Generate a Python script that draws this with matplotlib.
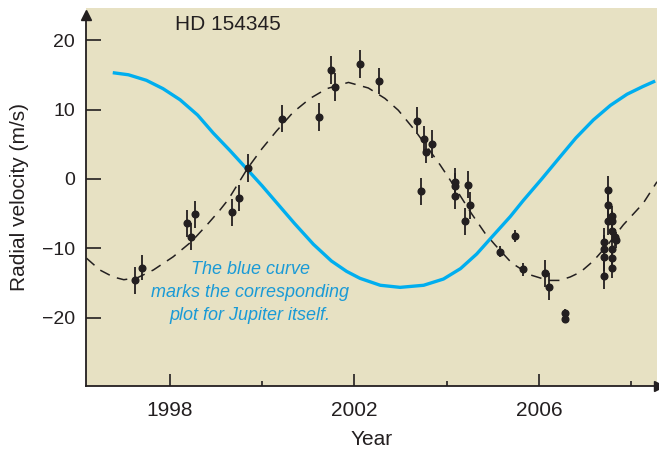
import matplotlib
matplotlib.use("Agg")
import matplotlib.pyplot as plt

plt.rcParams['font.family'] = ['Liberation Sans', 'DejaVu Sans']

obs_year = [1997.24, 1997.39, 1998.37, 1998.46, 1998.54, 1999.34, 1999.50, 1999.69,
            2000.42, 2001.23, 2001.49, 2001.57, 2002.12, 2002.54,
            2003.35, 2003.44, 2003.50, 2003.55, 2003.68,
            2004.17, 2004.19, 2004.17, 2004.40, 2004.46, 2004.51,
            2005.16, 2005.48, 2005.65, 2006.13, 2006.22, 2006.57, 2006.57,
            2007.41, 2007.41, 2007.41, 2007.41,
            2007.49, 2007.49, 2007.49,
            2007.58, 2007.58, 2007.58, 2007.58, 2007.58, 2007.58,
            2007.64, 2007.68]
obs_rv = [-14.6, -12.8, -6.4, -8.3, -5.1, -4.8, -2.7, 1.6,
          8.7, 8.9, 15.7, 13.2, 16.6, 14.1,
          8.4, -1.8, 5.8, 3.9, 5.0,
          -0.4, -1.0, -2.4, -6.1, -0.8, -3.8,
          -10.5, -8.2, -13.0, -13.6, -15.5, -19.3, -20.1,
          -9.1, -10.1, -11.3, -13.9,
          -1.6, -3.8, -6.1,
          -5.4, -6.1, -7.5, -10.1, -11.4, -12.8,
          -8.4, -8.8]
obs_err = [1.9, 1.8, 1.9, 1.9, 1.9, 1.9, 1.9, 2.0,
           1.9, 2.0, 2.0, 2.0, 2.0, 1.9,
           1.9, 2.0, 1.8, 1.6, 2.0,
           2.0, 1.9, 1.9, 1.9, 2.0, 1.9,
           0.8, 0.9, 0.9, 2.0, 1.9, 0.6, 0.6,
           2.0, 2.0, 2.0, 2.0,
           2.0, 2.0, 2.0,
           1.5, 1.5, 1.5, 1.5, 1.5, 1.5,
           1.2, 1.2]

# orbit fit for HD 154345 (dashed)
fit_year = [1996.19, 1996.48, 1996.77, 1997.0, 1997.3, 1997.64, 1998.07, 1998.47,
            1998.83, 1999.08, 1999.26, 1999.69, 2000.0, 2000.31, 2000.67, 2001.04,
            2001.40, 2001.87, 2002.30, 2002.66, 2002.95, 2003.31, 2003.6, 2003.86,
            2004.07, 2004.33, 2004.54, 2004.83, 2005.05, 2005.41, 2005.81, 2006.2,
            2006.45, 2006.68, 2006.9, 2007.18, 2007.5, 2007.83, 2008.26, 2008.56]
fit_rv = [-11.4, -13.1, -14.1, -14.5, -14.2, -13.1, -11.2, -9.0,
          -6.4, -4.5, -3.0, 1.6, 4.4, 6.9, 9.6, 11.6,
          13.0, 13.9, 13.1, 11.6, 9.9, 7.0, 4.4, 2.0,
          -0.1, -2.8, -5.0, -7.8, -9.5, -12.1, -13.8, -14.6,
          -14.6, -14.1, -13.4, -11.8, -9.4, -6.6, -3.5, -0.4]

# Jupiter's signal for comparison (blue)
jup_year = [1996.76, 1997.1, 1997.49, 1997.85, 1998.22, 1998.6, 1998.94, 1999.3,
            1999.70, 2000.0, 2000.35, 2000.7, 2001.11, 2001.5, 2001.83, 2002.12,
            2002.56, 2002.99, 2003.5, 2003.93, 2004.3, 2004.65, 2005.0, 2005.38,
            2005.66, 2006.06, 2006.46, 2006.8, 2007.18, 2007.55, 2007.91, 2008.25, 2008.52]
jup_rv = [15.3, 15.0, 14.2, 13.0, 11.4, 9.2, 6.6, 4.1,
          1.2, -1.0, -3.7, -6.4, -9.4, -11.8, -13.3, -14.3,
          -15.3, -15.6, -15.3, -14.4, -12.9, -10.8, -8.2, -5.4,
          -3.1, 0.0, 3.2, 5.9, 8.5, 10.6, 12.2, 13.3, 14.1]

ink = '#231f20'
bg = '#e7e1c3'

fig = plt.figure(figsize=(6.59, 4.49), dpi=100)
ax = fig.add_axes([0.1305, 0.1403, 0.8665, 0.8417])
ax.set_facecolor(bg)

ax.plot(fit_year, fit_rv, color=ink, lw=1.1, dashes=(7, 5), zorder=2)
ax.plot(jup_year, jup_rv, color='#00aeef', lw=2.4, solid_capstyle='butt', zorder=3)
ax.errorbar(obs_year, obs_rv, yerr=obs_err, fmt='o', color=ink, ms=4.8,
            elinewidth=1.3, capsize=0, zorder=4)

ax.set_xlim(1996.18, 2008.56)
ax.set_ylim(-29.8, 24.6)

ax.spines['top'].set_visible(False)
ax.spines['right'].set_visible(False)
ax.spines['left'].set_color(ink)
ax.spines['bottom'].set_color(ink)
ax.spines['left'].set_linewidth(1.3)
ax.spines['bottom'].set_linewidth(1.3)
ax.spines['left'].set_bounds(-29.8, 23.5)

# arrow heads on the axes
ax.plot([1996.18], [23.6], marker='^', color=ink, ms=7, clip_on=False, zorder=5)
ax.plot([2008.6], [-29.8], marker='>', color=ink, ms=7, clip_on=False, zorder=5)

ax.set_xticks([1998, 2002, 2006])
ax.set_xticks([2000, 2004, 2008], minor=True)
ax.set_yticks([-20, -10, 0, 10, 20])
ax.set_yticklabels(['\u221220', '\u221210', '0', '10', '20'])
ax.tick_params(axis='x', which='major', direction='in', length=8.6, width=1.2,
               color=ink, labelsize=15, labelcolor=ink, pad=11)
ax.tick_params(axis='x', which='minor', direction='in', length=3.8, width=1.2, color=ink)
ax.tick_params(axis='y', direction='in', length=10.8, width=1.2,
               color=ink, labelsize=14, labelcolor=ink, pad=8)

ax.set_xlabel('Year', fontsize=15, color=ink, labelpad=7)
ax.set_ylabel('Radial velocity (m/s)', fontsize=15, color=ink, labelpad=9)

ax.text(1998.11, 22.2, 'HD 154345', fontsize=15, color=ink, va='center')
ax.text(1999.74, -16.3, 'The blue curve\nmarks the corresponding\nplot for Jupiter itself.',
        style='italic', fontsize=13, color='#1a9ad6', ha='center', va='center',
        linespacing=1.45)

fig.savefig('out.png', dpi=100)
